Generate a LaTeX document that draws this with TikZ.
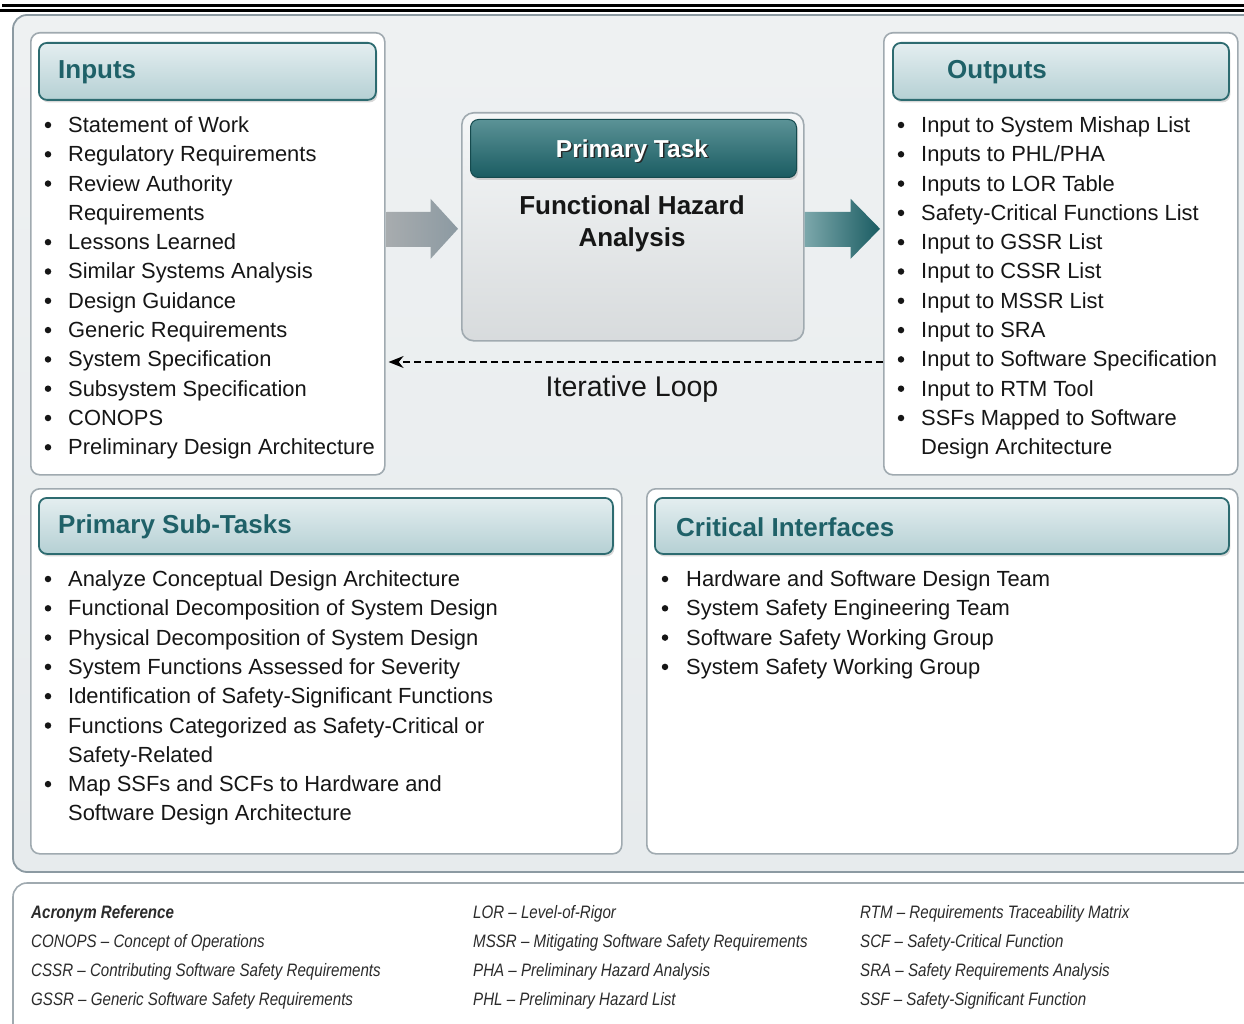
\documentclass[tikz,border=0pt]{standalone}
\usepackage{fontspec}
\setmainfont{Liberation Sans}
\newfontfamily\acrofont[FakeStretch=0.84]{Liberation Sans}
\usepackage{tikz}
\usetikzlibrary{shadows,calc,arrows.meta}
\definecolor{petrole}{HTML}{1F6168}
\definecolor{petbord}{HTML}{2D6B70}
\definecolor{pethaut}{HTML}{E4EEF0}
\definecolor{petbas}{HTML}{B5D0D4}
\definecolor{foncehaut}{HTML}{5B9296}
\definecolor{foncebas}{HTML}{1A5C62}
\definecolor{grisbord}{HTML}{A0AAB0}
\definecolor{grisfond}{HTML}{E7EBED}
\definecolor{griscadre}{HTML}{8C9AA2}
\definecolor{texte}{HTML}{161616}
\definecolor{acrotexte}{HTML}{2B2B2B}

\begin{document}
\begin{tikzpicture}[x=1pt, y=-1pt,
  panneau/.style={draw=grisbord, line width=1.6pt, fill=white, rounded corners=9pt,
    anchor=north west, inner sep=0pt},
  entete/.style={draw=petbord, line width=1.8pt, top color=pethaut, bottom color=petbas,
    rounded corners=8pt, anchor=north west, inner sep=0pt,
    drop shadow={shadow xshift=1.5pt, shadow yshift=-2.5pt, opacity=.3}},
  titre/.style={anchor=west, inner sep=0pt, text=petrole,
    font=\fontsize{26}{30}\selectfont\bfseries},
  ligne/.style={anchor=base west, inner sep=0pt, text=texte,
    font=\fontsize{21.9}{26}\selectfont},
  puce/.style={circle, fill=texte, inner sep=0pt, minimum size=6.5pt},
  acro/.style={anchor=base west, inner sep=0pt, text=acrotexte,
    font=\acrofont\itshape\fontsize{18}{22}\selectfont}]
  \useasboundingbox (0,0) rectangle (1244,1024);

  % Filets.
  \path[draw=black, line width=2.6pt] (2,5.5) -- (1244,5.5);
  \path[draw=black, line width=2.6pt] (0,10.8) -- (1244,10.8);

  % Cadre.
  \path[draw=griscadre, line width=1.8pt, top color=grisfond!70!white, bottom color=grisfond,
    rounded corners=14pt] (13,15) rectangle (1262,872);

  % Entrees.
  \node[panneau, minimum width=354pt, minimum height=442pt] (inputs) at (30,32) {};
  \node[entete, minimum width=337pt, minimum height=57pt] (inhead) at (38,42) {};
  \node[titre] (intitre) at (58,72) {Inputs};
  \foreach \b/\t [count=\i from 0] in {1/Statement of Work, 1/Regulatory Requirements,
      1/Review Authority, 0/Requirements, 1/Lessons Learned, 1/Similar Systems Analysis,
      1/Design Guidance, 1/Generic Requirements, 1/System Specification,
      1/Subsystem Specification, 1/CONOPS, 1/Preliminary Design Architecture} {
    \node[ligne] (in\i) at (68,132.5+29.3*\i) {\t};
    \ifnum\b=1 \node[puce] (inp\i) at (48,125+29.3*\i) {}; \fi
  }

  % Sorties.
  \node[panneau, minimum width=354pt, minimum height=442pt] (outputs) at (883,32) {};
  \node[entete, minimum width=336pt, minimum height=57pt] (outhead) at (892,42) {};
  \node[titre] (outtitre) at (947,72) {Outputs};
  \foreach \b/\t [count=\i from 0] in {1/Input to System Mishap List, 1/{Inputs to PHL/PHA},
      1/Inputs to LOR Table, 1/Safety-Critical Functions List, 1/Input to GSSR List,
      1/Input to CSSR List, 1/Input to MSSR List, 1/Input to SRA,
      1/Input to Software Specification, 1/Input to RTM Tool,
      1/SSFs Mapped to Software, 0/Design Architecture} {
    \node[ligne] (out\i) at (921,132.5+29.3*\i) {\t};
    \ifnum\b=1 \node[puce] (outp\i) at (901,125+29.3*\i) {}; \fi
  }

  % Tache.
  \node[draw=grisbord, line width=1.6pt, top color=white!60!grisfond, bottom color=grisfond!85!gray,
    rounded corners=12pt, anchor=north west, inner sep=0pt,
    minimum width=342pt, minimum height=228pt] (tache) at (461,112) {};
  \node[draw=foncebas!80!black, line width=1pt, top color=foncehaut, bottom color=foncebas,
    rounded corners=8pt, anchor=north west, inner sep=0pt,
    minimum width=326pt, minimum height=58pt,
    drop shadow={shadow xshift=1.5pt, shadow yshift=-2.5pt, opacity=.3}] (tachehead) at (470,119) {};
  \node[font=\fontsize{24.5}{29}\selectfont\bfseries, text=black!85] (ptombre) at (633.5,152.5) {Primary Task};
  \node[font=\fontsize{24.5}{29}\selectfont\bfseries, text=white] (ptitre) at (632,151) {Primary Task};
  \node[font=\fontsize{26}{32}\selectfont\bfseries, text=texte, align=center] (fha) at (632,223.5)
    {Functional Hazard\\Analysis};

  % Fleches.
  \coordinate (g0) at ($(inputs.east |- tache.west)+(1,2)$);
  \path[left color=gray!45!grisbord!80!white, right color=griscadre]
    ($(g0)+(0,-17)$) -- ($(g0)+(44,-17)$) -- ($(g0)+(44,-30)$) -- ($(tache.west)+(-3,2)$)
    -- ($(g0)+(44,30)$) -- ($(g0)+(44,18)$) -- ($(g0)+(0,18)$) -- cycle;
  \coordinate (d0) at ($(tache.east)+(0,2)$);
  \coordinate (d1) at (outputs.west |- d0);
  \path[left color=foncehaut!80!white, right color=foncebas]
    ($(d0)+(0,-17)$) -- ($(d0)+(46,-17)$) -- ($(d0)+(46,-30)$) -- ($(d1)+(-3,0)$)
    -- ($(d0)+(46,30)$) -- ($(d0)+(46,18)$) -- ($(d0)+(0,18)$) -- cycle;

  % Boucle.
  \node[font=\fontsize{28.5}{33}\selectfont, text=texte] (boucle) at (632,389) {Iterative Loop};
  \coordinate (by) at (632,362);
  \draw[line width=1.8pt, dash pattern=on 7pt off 4pt, -{Stealth[length=15pt, width=12pt]}]
    (outputs.west |- by) -- ($(inputs.east |- by)+(3,0)$);

  % Sous-taches.
  \node[panneau, minimum width=591pt, minimum height=365pt] (subtasks) at (30,488) {};
  \node[entete, minimum width=574pt, minimum height=56pt] (subhead) at (38,497) {};
  \node[titre] (subtitre) at (58,527) {Primary Sub-Tasks};
  \foreach \b/\t [count=\i from 0] in {1/Analyze Conceptual Design Architecture,
      1/Functional Decomposition of System Design, 1/Physical Decomposition of System Design,
      1/System Functions Assessed for Severity, 1/Identification of Safety-Significant Functions,
      1/Functions Categorized as Safety-Critical or, 0/Safety-Related,
      1/Map SSFs and SCFs to Hardware and, 0/Software Design Architecture} {
    \node[ligne] (sub\i) at (68,586.5+29.3*\i) {\t};
    \ifnum\b=1 \node[puce] (subp\i) at (48,579+29.3*\i) {}; \fi
  }

  % Interfaces.
  \node[panneau, minimum width=591pt, minimum height=365pt] (interfaces) at (646,488) {};
  \node[entete, minimum width=574pt, minimum height=56pt] (inthead) at (654,497) {};
  \node[titre] (inttitre) at (676,527) {Critical Interfaces};
  \foreach \t [count=\i from 0] in {Hardware and Software Design Team,
      System Safety Engineering Team, Software Safety Working Group,
      System Safety Working Group} {
    \node[ligne] (int\i) at (686,586.5+29.3*\i) {\t};
    \node[puce] (intp\i) at (665,579+29.3*\i) {};
  }

  % Acronymes.
  \path[draw=grisbord, line width=1.6pt, fill=white, rounded corners=14pt]
    (13,883) rectangle (1270,1050);
  \foreach \t [count=\i from 0] in {{\bfseries Acronym Reference},
      CONOPS – Concept of Operations, CSSR – Contributing Software Safety Requirements,
      GSSR – Generic Software Safety Requirements}
    \node[acro] (acra\i) at (31,918+29*\i) {\t};
  \foreach \t [count=\i from 0] in {LOR – Level-of-Rigor,
      MSSR – Mitigating Software Safety Requirements, PHA – Preliminary Hazard Analysis,
      PHL – Preliminary Hazard List}
    \node[acro] (acrb\i) at (473,918+29*\i) {\t};
  \foreach \t [count=\i from 0] in {RTM – Requirements Traceability Matrix,
      SCF – Safety-Critical Function, SRA – Safety Requirements Analysis,
      SSF – Safety-Significant Function}
    \node[acro] (acrc\i) at (860,918+29*\i) {\t};
\end{tikzpicture}
\end{document}
